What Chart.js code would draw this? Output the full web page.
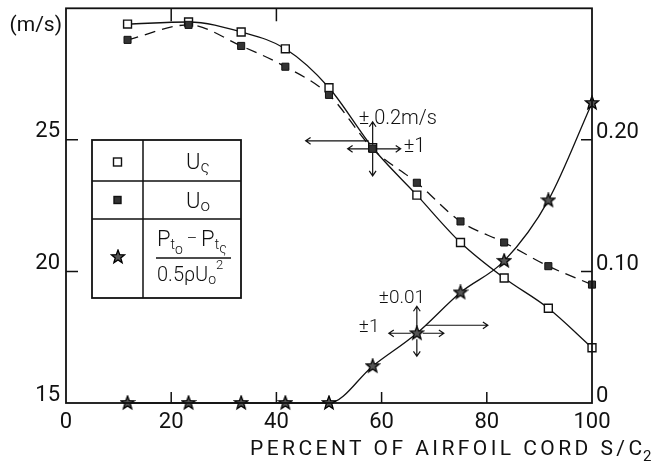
<!DOCTYPE html>
<html>
<head>
<meta charset="utf-8">
<script src="https://cdn.jsdelivr.net/npm/chart.js@4.4.1/dist/chart.umd.min.js"></script>
<style>
  html, body { margin: 0; padding: 0; background: #fff; }
  #wrap { width: 665px; height: 461px; }
</style>
</head>
<body>
<div id="wrap"><canvas id="c" width="665" height="461"></canvas></div>
<script>
// Measurement stations along the chord (percent of S/C2)
const chordPercent = [11.7, 23.3, 33.3, 41.7, 50, 58.3, 66.7, 75, 83.3, 91.7, 100];
// Velocity at the boundary-layer edge, m/s
const uDelta = [29.4, 29.48, 29.1, 28.46, 26.98, 24.7, 22.9, 21.1, 19.75, 18.6, 17.1];
// Free-stream velocity, m/s
const uZero = [28.8, 29.37, 28.57, 27.78, 26.71, 24.66, 23.37, 21.9, 21.1, 20.2, 19.5];
// Total-pressure loss coefficient (right axis)
const pressureRatio = [0, 0, 0, 0, 0, 0.028, 0.053, 0.084, 0.108, 0.154, 0.228];

const chordTicks = [0, 20, 40, 60, 80, 100];
const velocityTicks = [15, 20, 25];
const ratioTicks = [0, 0.10, 0.20];
const topFrameTicks = [20, 40];

const FONT = 'Roboto, "DejaVu Sans", sans-serif';
const INK = '#111';

// five-pointed star marker
function makeStar(size) {
  const cv = document.createElement('canvas');
  cv.width = size; cv.height = size;
  const c = cv.getContext('2d');
  const cx = size / 2, cy = size / 2, ro = size / 2 - 1, ri = ro * 0.42;
  c.beginPath();
  for (let i = 0; i < 10; i++) {
    const r = i % 2 ? ri : ro;
    const a = -Math.PI / 2 + i * Math.PI / 5;
    const px = cx + r * Math.cos(a), py = cy + r * Math.sin(a);
    i ? c.lineTo(px, py) : c.moveTo(px, py);
  }
  c.closePath();
  c.fillStyle = '#555';
  c.fill();
  c.lineWidth = 1.3;
  c.strokeStyle = '#000';
  c.stroke();
  return cv;
}
const starImg = makeStar(16);

function pts(ys) { return chordPercent.map((x, i) => ({ x, y: ys[i] })); }

function arrow(ctx, x1, y1, x2, y2, head) {
  head = head || 6;
  const a = Math.atan2(y2 - y1, x2 - x1);
  ctx.beginPath();
  ctx.moveTo(x1, y1); ctx.lineTo(x2, y2);
  ctx.moveTo(x2 - head * Math.cos(a - 0.6), y2 - head * Math.sin(a - 0.6));
  ctx.lineTo(x2, y2);
  ctx.lineTo(x2 - head * Math.cos(a + 0.6), y2 - head * Math.sin(a + 0.6));
  ctx.stroke();
}

// draw a sequence of text runs: [text, size, dy]
function runs(ctx, x, y, parts, weight) {
  let cx = x;
  for (const [t, size, dy] of parts) {
    ctx.font = (weight || '400') + ' ' + size + 'px ' + FONT;
    ctx.fillText(t, cx, y + (dy || 0));
    cx += ctx.measureText(t).width;
  }
  return cx;
}

// text stretched by letter spacing between two x positions
function spacedText(ctx, text, x0, x1, y) {
  const w = ctx.measureText(text).width;
  const n = text.length;
  const ls = n > 1 ? (x1 - x0 - w) / (n - 1) : 0;
  ctx.letterSpacing = ls.toFixed(2) + 'px';
  ctx.fillText(text, x0, y);
  ctx.letterSpacing = '0px';
}

const overlay = {
  id: 'overlay',
  afterDraw(chart) {
    const ctx = chart.ctx;
    const a = chart.chartArea;
    const sx = chart.scales.x, sy = chart.scales.y, sr = chart.scales.y2;
    ctx.save();
    ctx.strokeStyle = INK;
    ctx.fillStyle = INK;
    ctx.lineCap = 'butt';

    // frame
    ctx.lineWidth = 1.8;
    ctx.strokeRect(a.left, a.top, a.right - a.left, a.bottom - a.top);

    // inward tick marks
    ctx.lineWidth = 1.5;
    ctx.beginPath();
    chordTicks.slice(1, -1).forEach(v => {
      const px = sx.getPixelForValue(v);
      ctx.moveTo(px, a.bottom); ctx.lineTo(px, a.bottom - 11);
    });
    topFrameTicks.forEach(v => {
      const px = sx.getPixelForValue(v);
      ctx.moveTo(px, a.top); ctx.lineTo(px, a.top + 13);
    });
    velocityTicks.slice(1).forEach(v => {
      const py = sy.getPixelForValue(v);
      ctx.moveTo(a.left, py); ctx.lineTo(a.left + 12, py);
    });
    ratioTicks.slice(1).forEach(v => {
      const py = sr.getPixelForValue(v);
      ctx.moveTo(a.right, py); ctx.lineTo(a.right - 11, py);
    });
    ctx.stroke();

    // unit label on the velocity axis
    ctx.textBaseline = 'alphabetic';
    ctx.textAlign = 'right';
    ctx.font = '400 21px ' + FONT;
    ctx.fillText('(m/s)', a.left - 4, 31);

    // axis title
    ctx.textAlign = 'left';
    ctx.font = '400 21px ' + FONT;
    spacedText(ctx, 'PERCENT OF AIRFOIL CORD S/C', 250, 642, 455);
    ctx.font = '400 15px ' + FONT;
    ctx.fillText('2', 643, 461);

    // legend table
    const L = 92, R = 241, T = 140, B = 298, C = 143, r1 = 181, r2 = 219;
    ctx.fillStyle = '#fff';
    ctx.fillRect(L, T, R - L, B - T);
    ctx.fillStyle = INK;
    ctx.lineWidth = 1.8;
    ctx.strokeRect(L, T, R - L, B - T);
    ctx.lineWidth = 1.5;
    ctx.beginPath();
    ctx.moveTo(C, T); ctx.lineTo(C, B);
    ctx.moveTo(L, r1); ctx.lineTo(R, r1);
    ctx.moveTo(L, r2); ctx.lineTo(R, r2);
    ctx.stroke();

    // legend markers
    ctx.lineWidth = 1.4;
    ctx.fillStyle = '#fff';
    ctx.fillRect(113.5, 158, 8, 8);
    ctx.strokeRect(113.5, 158, 8, 8);
    ctx.fillStyle = '#333';
    ctx.fillRect(114, 196.5, 7, 7);
    ctx.strokeRect(114, 196.5, 7, 7);
    ctx.drawImage(starImg, 118 - 8, 257 - 8);
    ctx.fillStyle = INK;

    // legend labels
    runs(ctx, 186, 169, [['U', 22, 0], ['ς', 17, 3]], '300');
    runs(ctx, 186, 208, [['U', 22, 0], ['o', 17, 3]], '300');
    const num = [['P', 22, 0], ['t', 14, 3], ['o', 14, 8], [' \u2013 ', 16, -2], ['P', 22, 0], ['t', 14, 3], ['ς', 14, 7]];
    runs(ctx, 157, 246, num, '300');
    ctx.lineWidth = 1.4;
    ctx.beginPath();
    ctx.moveTo(156, 258); ctx.lineTo(231, 258);
    ctx.stroke();
    runs(ctx, 157, 281, [['0.5', 20, 0], ['\u03c1', 20, 0], ['U', 20, 0], ['o', 14, 3], ['2', 13, -12]], '300');

    // uncertainty arrows on U0 at the 58.3 % station
    const pu = chart.getDatasetMeta(0).data[5];
    ctx.lineWidth = 1.2;
    arrow(ctx, pu.x, pu.y - 4, pu.x, pu.y - 27, 6);
    arrow(ctx, pu.x, pu.y + 4, pu.x, pu.y + 27, 6);
    arrow(ctx, pu.x - 4, pu.y, pu.x - 25, pu.y, 6);
    arrow(ctx, pu.x + 4, pu.y, pu.x + 28, pu.y, 6);
    arrow(ctx, pu.x - 4, pu.y - 8, pu.x - 67, pu.y - 8, 6);
    ctx.font = '300 20px ' + FONT;
    ctx.fillText('\u00b1 0.2m/s', pu.x - 14, pu.y - 25);
    ctx.fillText('\u00b11', pu.x + 31, pu.y + 3);

    // uncertainty arrows on the loss coefficient at the 66.7 % station
    const ps = chart.getDatasetMeta(2).data[6];
    arrow(ctx, ps.x, ps.y - 6, ps.x, ps.y - 27, 6);
    arrow(ctx, ps.x, ps.y + 6, ps.x, ps.y + 23, 6);
    arrow(ctx, ps.x - 6, ps.y, ps.x - 28, ps.y, 6);
    arrow(ctx, ps.x + 6, ps.y, ps.x + 27, ps.y, 6);
    arrow(ctx, ps.x + 9, ps.y - 8, ps.x + 71, ps.y - 8, 6);
    ctx.font = '300 19px ' + FONT;
    ctx.fillText('\u00b10.01', ps.x - 38, ps.y - 30);
    ctx.fillText('\u00b11', ps.x - 58, ps.y - 1);

    ctx.restore();
  }
};

const tickFont = { family: FONT, size: 22, weight: '400' };

// keep the plot frame at fixed offsets regardless of label overhang
function noPad(s) { s.paddingTop = 0; s.paddingBottom = 0; s.paddingLeft = 0; s.paddingRight = 0; }

new Chart(document.getElementById('c'), {
  type: 'line',
  data: {
    datasets: [
      {
        label: 'U0',
        data: pts(uZero),
        yAxisID: 'y',
        borderColor: INK,
        borderWidth: 1.3,
        borderDash: [11, 7],
        pointStyle: 'rect',
        pointRadius: 5,
        pointBackgroundColor: '#333',
        pointBorderColor: INK,
        pointBorderWidth: 1,
        cubicInterpolationMode: 'monotone',
        clip: false,
        order: 0
      },
      {
        label: 'U\u03c2',
        data: pts(uDelta),
        yAxisID: 'y',
        borderColor: INK,
        borderWidth: 1.3,
        pointStyle: 'rect',
        pointRadius: 5.6,
        pointBackgroundColor: '#fff',
        pointBorderColor: INK,
        pointBorderWidth: 1.4,
        cubicInterpolationMode: 'monotone',
        clip: false,
        order: 1
      },
      {
        label: 'loss',
        data: pts(pressureRatio),
        yAxisID: 'y2',
        borderColor: INK,
        borderWidth: 1.3,
        pointStyle: starImg,
        pointRadius: 7,
        cubicInterpolationMode: 'monotone',
        clip: false,
        order: 2
      }
    ]
  },
  options: {
    responsive: false,
    animation: false,
    events: [],
    layout: { padding: { top: 8, left: 0, right: 0, bottom: 0 } },
    plugins: { legend: { display: false }, tooltip: { enabled: false } },
    scales: {
      x: {
        type: 'linear', min: 0, max: 100,
        afterBuildTicks: s => { s.ticks = chordTicks.map(v => ({ value: v })); },
        afterFit: s => { s.height = 58; noPad(s); },
        grid: { display: false, drawTicks: false },
        border: { display: false },
        ticks: { padding: 6, font: tickFont, color: INK, maxRotation: 0, autoSkip: false }
      },
      y: {
        type: 'linear', position: 'left', min: 15, max: 30,
        afterBuildTicks: s => { s.ticks = velocityTicks.map(v => ({ value: v })); },
        afterFit: s => { s.width = 66; noPad(s); },
        grid: { display: false, drawTicks: false },
        border: { display: false },
        ticks: { padding: 6, labelOffset: -8, font: tickFont, color: INK, autoSkip: false }
      },
      y2: {
        type: 'linear', position: 'right', min: 0, max: 0.30,
        afterBuildTicks: s => { s.ticks = ratioTicks.map(v => ({ value: v })); },
        afterFit: s => { s.width = 73; noPad(s); },
        grid: { display: false, drawTicks: false },
        border: { display: false },
        ticks: {
          padding: 4, labelOffset: -7, font: tickFont, color: INK, autoSkip: false,
          callback: v => (v === 0 ? '0' : v.toFixed(2))
        }
      }
    }
  },
  plugins: [overlay]
});
</script>
</body>
</html>
